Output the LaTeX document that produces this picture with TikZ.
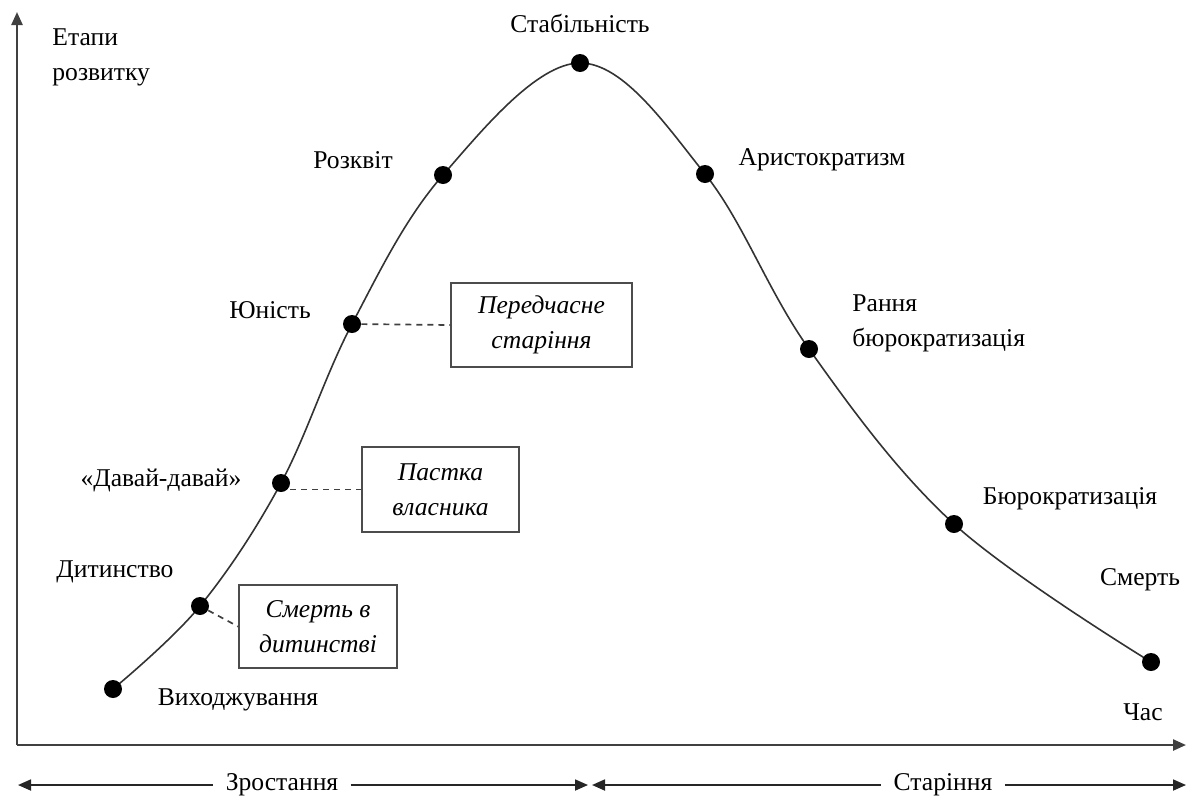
\documentclass[tikz,border=0pt]{standalone}
\usepackage{fontspec}
\setmainfont{Liberation Serif}
\usetikzlibrary{arrows.meta}
\begin{document}
\begin{tikzpicture}[x=0.5pt,y=-0.5pt,
  lbl/.style={font=\fontsize{12.8}{17.5}\selectfont, inner sep=0pt},
  dot/.style={circle, fill=black, inner sep=0pt, minimum size=9pt},
  curve/.style={line width=0.8pt, black!80},
  axis/.style={line width=1.2pt, black!75, -{Triangle[length=6.5pt,width=5.5pt]}},
  ltip/.style={{Triangle[length=6.5pt,width=5.5pt]}-},
  rtip/.style={-{Triangle[length=6.5pt,width=5.5pt]}},
  phase/.style={line width=0.9pt, black!85},
  trap/.style={draw=black!70, line width=0.9pt, align=center, inner sep=0pt,
    font=\fontsize{12.8}{17.5}\selectfont\itshape},
  link/.style={dashed, dash pattern=on 3pt off 2.5pt, line width=0.85pt, black!75}]
\useasboundingbox (0,0) rectangle (1187,798);
% axes
\coordinate (O) at (17,745);
\coordinate (Ytop) at (17,12);
\coordinate (Xend) at (1186,745);
\draw[axis] (O) -- (Ytop);
\draw[axis] (O) -- (Xend);
% curve points
\coordinate (p1) at (113,689);
\coordinate (p2) at (200,606);
\coordinate (p3) at (281,483);
\coordinate (p4) at (352,324);
\coordinate (p5) at (443,175);
\coordinate (p6) at (580,63);
\coordinate (p7) at (705,174);
\coordinate (p8) at (809,349);
\coordinate (p9) at (954,524);
\coordinate (p10) at (1151,662);
\draw[curve] plot[smooth, tension=0.6] coordinates {(p1) (p2) (p3) (p4) (p5) (p6) (p7) (p8) (p9) (p10)};
\foreach \i in {1,...,10} \node[dot] (d\i) at (p\i) {};
% labels
\node[lbl, align=left, anchor=north west] (ylab) at (52,28) {Етапи\\розвитку};
\node[lbl] (l6) at (580,23) {Стабільність};
\node[lbl] (l5) at (353,160) {Розквіт};
\node[lbl] (l7) at (822,160) {Аристократизм};
\node[lbl] (l4) at (270,310) {Юність};
\node[lbl, align=left, anchor=north west] (l8) at (852,294) {Рання\\бюрократизація};
\node[lbl] (l3) at (161,480) {«Давай-давай»};
\node[lbl] (l9) at (1070,499) {Бюрократизація};
\node[lbl] (l2) at (115,572) {Дитинство};
\node[lbl] (l10) at (1140,580) {Смерть};
\node[lbl] (l1) at (238,700) {Виходжування};
\node[lbl] (tlab) at (1143,712) {Час};
% trap boxes
\node[trap, minimum width=90.5pt, minimum height=42pt] (b1) at (541.5,325) {Передчасне\\старіння};
\node[trap, minimum width=78.5pt, minimum height=42.5pt] (b2) at (440.5,489.5) {Пастка\\власника};
\node[trap, minimum width=79pt, minimum height=41.5pt] (b3) at (318,626.5) {Смерть в\\дитинстві};
\draw[link] (d4) -- (b1.west);
\draw[link] (b2.west -| d3.east) -- (b2.west);
\draw[link] (d2) -- (b3.west);
% phases
\coordinate (a1) at (18,785);
\coordinate (a2) at (588,785);
\coordinate (a3) at (592,785);
\coordinate (a4) at (1186,785);
\node[lbl, inner xsep=6pt] (g) at (282,785) {Зростання};
\node[lbl, inner xsep=6pt] (s) at (943,785) {Старіння};
\draw[phase, ltip] (a1) -- (g.west);
\draw[phase, rtip] (g.east) -- (a2);
\draw[phase, ltip] (a3) -- (s.west);
\draw[phase, rtip] (s.east) -- (a4);
\end{tikzpicture}
\end{document}
